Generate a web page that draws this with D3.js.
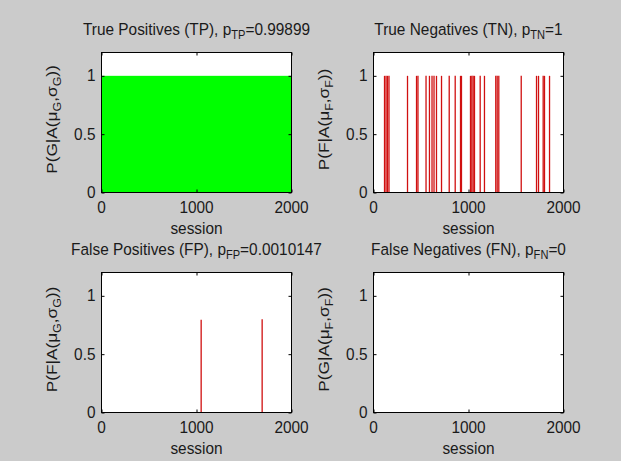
<!DOCTYPE html>
<html>
<head>
<meta charset="utf-8">
<script src="https://cdn.jsdelivr.net/npm/d3@7"></script>
<style>
body{margin:0;background:#cbcbcb;}
text{font-family:"Liberation Sans",Arial,sans-serif;fill:#1a1a1a;}
</style>
</head>
<body>
<div id="fig"></div>
<script>
// values
var sessionTicks=[0,1000,2000];
var probTicks=[0,0.5,1];
var tpRun=[1,2000], tpValue=1;
var tnSessions=[116,132,147,163,358,453,468,553,589,616,637,663,716,797,860,916,926,
                1021,1035,1049,1063,1123,1168,1287,1302,1319,1555,1716,1737,1786,1800,1853];
var tnValue=1;
var fpSessions=[1049,1691];
var fpValues=[0.795,0.80];
var fnSessions=[];
var fnValues=[];
var titles=[["True Positives (TP), p","TP","=0.99899"],
            ["True Negatives (TN), p","TN","=1"],
            ["False Positives (FP), p","FP","=0.0010147"],
            ["False Negatives (FN), p","FN","=0"]];
var ylabels=[["P(G|A(\u03bc","G",",\u03c3","G","))"],
             ["P(F|A(\u03bc","F",",\u03c3","F","))"],
             ["P(F|A(\u03bc","G",",\u03c3","G","))"],
             ["P(G|A(\u03bc","F",",\u03c3","F","))"]];

var W=621,H=461,aw=190,ah=140,fs=15.4,K=1.12;
var cols=[101,373],rows=[52,272];

var svg=d3.select("#fig").append("svg")
    .attr("width",W).attr("height",H)
    .style("background","#cbcbcb");

var x=d3.scaleLinear().domain([0,2000]).range([0,aw]),
    y=d3.scaleLinear().domain([0,1.2]).range([ah,0]);

// text with sub-scripts, slightly tall as in the picture
function label(parent,tx,ty,anchor,parts,rot){
  var g=parent.append("g")
     .attr("transform","translate("+tx+","+ty+") scale(1,"+K+")"+(rot?" rotate(-90)":""));
  var t=g.append("text").attr("text-anchor",anchor).style("font-size",fs+"px");
  parts.forEach(function(p,i){
    var sp=t.append("tspan").text(p);
    if(i%2==1) sp.style("font-size",(fs*0.72)+"px").attr("dy",4);
    else if(i>0) sp.attr("dy",-4);
  });
  return g;
}

function panel(k,marks){
  var x0=cols[k%2],y0=rows[Math.floor(k/2)];
  var g=svg.append("g").attr("transform","translate("+(x0+0.5)+","+(y0+0.5)+")");
  g.append("rect").attr("width",aw).attr("height",ah).attr("fill","#fff");
  marks(g);
  var ax=[d3.axisBottom(x).tickValues(sessionTicks).tickSizeInner(-3).tickSizeOuter(0).tickFormat(""),
          d3.axisTop(x).tickValues(sessionTicks).tickSizeInner(-3).tickSizeOuter(0).tickFormat(""),
          d3.axisLeft(y).tickValues(probTicks).tickSizeInner(-3).tickSizeOuter(0).tickFormat(""),
          d3.axisRight(y).tickValues(probTicks).tickSizeInner(-3).tickSizeOuter(0).tickFormat("")];
  var tr=["translate(0,"+ah+")","translate(0,0)","translate(0,0)","translate("+aw+",0)"];
  ax.forEach(function(a,i){
    var ag=g.append("g").attr("transform",tr[i]).call(a);
    ag.select(".domain").remove();
    ag.selectAll("line").attr("stroke","#000");
  });
  g.append("rect").attr("width",aw).attr("height",ah)
   .attr("fill","none").attr("stroke","#000").attr("stroke-width",1);
  sessionTicks.forEach(function(v){label(g,x(v),ah+20,"middle",[String(v)]);});
  probTicks.forEach(function(v){label(g,-6,y(v)+5.5,"end",[String(v)]);});
  label(g,aw/2,ah+41,"middle",["session"]);
  label(g,aw/2,-18,"middle",titles[k]);
  label(g,-45,ah/2-3,"middle",ylabels[k],true);
}

function stems(sess,vals,color){
  return function(g){
    g.selectAll("line.stem").data(sess).enter().append("line")
     .attr("class","stem")
     .attr("x1",function(d){return x(d);}).attr("x2",function(d){return x(d);})
     .attr("y1",y(0)).attr("y2",function(d,i){return y(vals[i]);})
     .attr("stroke",color).attr("stroke-width",1.3);
  };
}

panel(0,function(g){
  g.append("rect")
   .attr("x",x(tpRun[0]-1)).attr("width",x(tpRun[1])-x(tpRun[0]-1))
   .attr("y",y(tpValue)).attr("height",y(0)-y(tpValue))
   .attr("fill","#00ff00");
});
panel(1,stems(tnSessions,tnSessions.map(function(){return tnValue;}),"#d01010"));
panel(2,stems(fpSessions,fpValues,"#d01010"));
panel(3,stems(fnSessions,fnValues,"#d01010"));
</script>
</body>
</html>
